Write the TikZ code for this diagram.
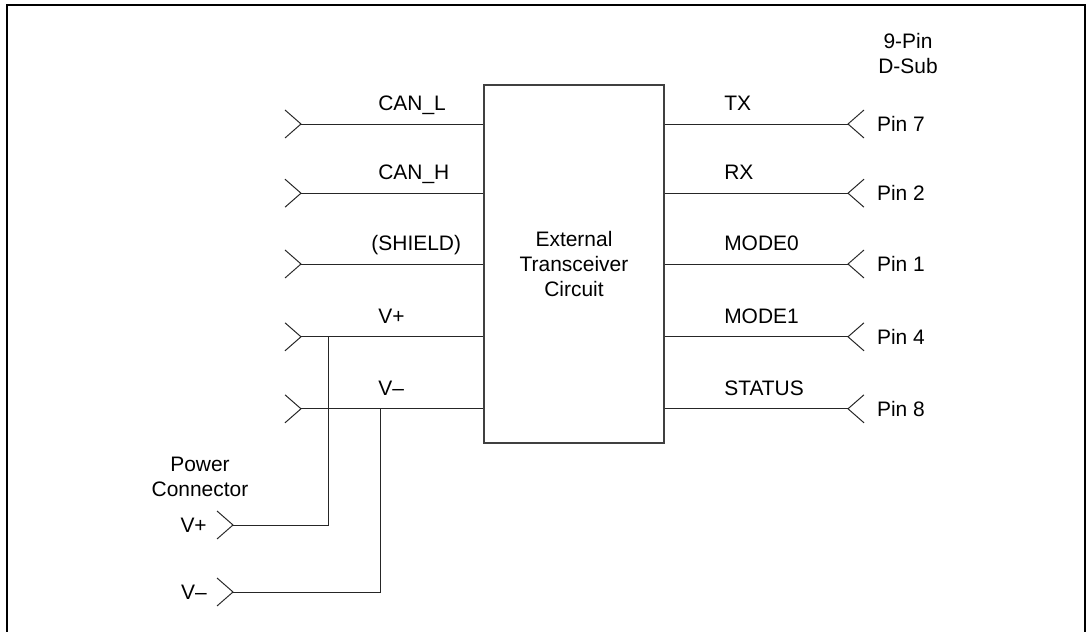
\documentclass[tikz,border=0pt]{standalone}
\usepackage{fontspec}
\setmainfont{Liberation Sans}
\usepackage{tikz}
\usetikzlibrary{positioning}

\begin{document}
\begin{tikzpicture}[
    lbl/.style={font=\fontsize{14.9}{17.8}\selectfont, inner sep=0pt},
    wire/.style={line width=0.7pt, black!85},
    xcvrbox/.style={rectangle, draw=black!75, line width=0.9pt, minimum width=4.5cm, minimum height=8.95cm, align=center, font=\fontsize{14.9}{17.8}\selectfont},
    frame/.style={draw, line width=1.7pt},
    plugL/.pic={\draw[wire] (-0.4,0.35) -- (0,0) -- (-0.4,-0.35);},
    plugR/.pic={\draw[wire] (0.4,0.35) -- (0,0) -- (0.4,-0.35);}]

    \clip (0,0) rectangle (27.15,-15.8);
    \draw[frame] (0.175,-0.125) rectangle (27.125,-17);

    % transceiver
    \node[xcvrbox] (xcvr) at (14.35,-6.6) {External\\Transceiver\\Circuit};

    % left side (CAN bus)
    \coordinate (canl) at (7.525,-3.1);
    \coordinate (canh) at (7.525,-4.83);
    \coordinate (shld) at (7.525,-6.6);
    \coordinate (vp) at (7.525,-8.42);
    \coordinate (vm) at (7.525,-10.22);
    \pic at (canl) {plugL}; \pic at (canh) {plugL}; \pic at (shld) {plugL};
    \pic at (vp) {plugL}; \pic at (vm) {plugL};
    \draw[wire] (canl) -- (canl -| xcvr.west); \draw[wire] (canh) -- (canh -| xcvr.west);
    \draw[wire] (shld) -- (shld -| xcvr.west); \draw[wire] (vp) -- (vp -| xcvr.west);
    \draw[wire] (vm) -- (vm -| xcvr.west);
    \node[lbl, anchor=base west] at (9.45,-2.765) {CAN\_L};
    \node[lbl, anchor=base west] at (9.45,-4.495) {CAN\_H};
    \node[lbl, anchor=base west] at (9.28,-6.265) {(SHIELD)};
    \node[lbl, anchor=base west] at (9.45,-8.085) {V+};
    \node[lbl, anchor=base west] at (9.45,-9.885) {V–};

    % power connector
    \coordinate (jp) at (8.2,-8.42);
    \coordinate (jm) at (9.5,-10.22);
    \coordinate (pvp) at (5.825,-13.125);
    \coordinate (pvm) at (5.825,-14.8);
    \pic at (pvp) {plugL}; \pic at (pvm) {plugL};
    \draw[wire] (jp) |- (pvp);
    \draw[wire] (jm) |- (pvm);
    \node[lbl, align=center] (pwr) at (5.0,-11.925) {Power\\Connector};
    \node[lbl, anchor=base east] at (5.175,-13.315) {V+};
    \node[lbl, anchor=base east] at (5.175,-14.99) {V–};

    % right side (9-pin D-Sub)
    \node[lbl, align=center] (dsub) at (22.7,-1.35) {9-Pin\\D-Sub};
    \coordinate (tx) at (21.2,-3.1);
    \coordinate (rx) at (21.2,-4.83);
    \coordinate (md0) at (21.2,-6.6);
    \coordinate (md1) at (21.2,-8.42);
    \coordinate (stat) at (21.2,-10.22);
    \pic at (tx) {plugR}; \pic at (rx) {plugR}; \pic at (md0) {plugR};
    \pic at (md1) {plugR}; \pic at (stat) {plugR};
    \draw[wire] (tx -| xcvr.east) -- (tx); \draw[wire] (rx -| xcvr.east) -- (rx);
    \draw[wire] (md0 -| xcvr.east) -- (md0); \draw[wire] (md1 -| xcvr.east) -- (md1);
    \draw[wire] (stat -| xcvr.east) -- (stat);
    \node[lbl, anchor=base west] at (18.1,-2.765) {TX};
    \node[lbl, anchor=base west] at (18.1,-4.495) {RX};
    \node[lbl, anchor=base west] at (18.1,-6.265) {MODE0};
    \node[lbl, anchor=base west] at (18.1,-8.085) {MODE1};
    \node[lbl, anchor=base west] at (18.1,-9.885) {STATUS};
    \node[lbl, anchor=base west] at (21.92,-3.29) {Pin 7};
    \node[lbl, anchor=base west] at (21.92,-5.02) {Pin 2};
    \node[lbl, anchor=base west] at (21.92,-6.79) {Pin 1};
    \node[lbl, anchor=base west] at (21.92,-8.61) {Pin 4};
    \node[lbl, anchor=base west] at (21.92,-10.41) {Pin 8};
\end{tikzpicture}
\end{document}
